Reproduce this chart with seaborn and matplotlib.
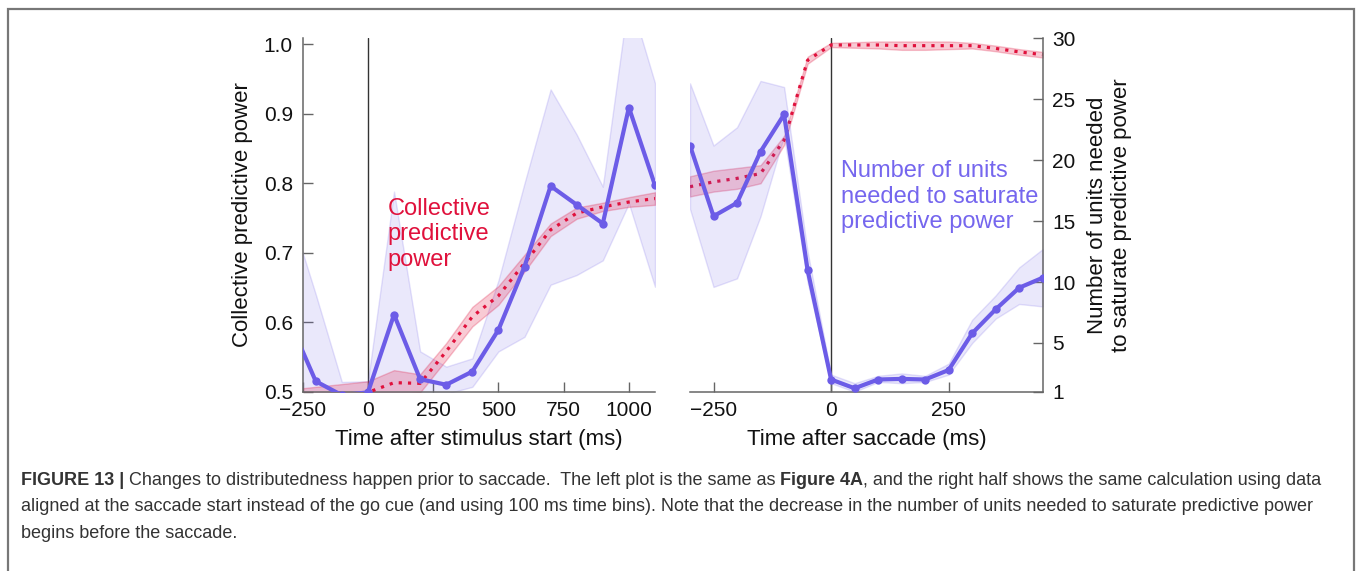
import matplotlib
matplotlib.use('Agg')
import matplotlib.pyplot as plt
from matplotlib.colors import to_rgba
from matplotlib.patches import Rectangle
import seaborn as sns

# ---- data ----
# left panel: aligned at stimulus start
left_t = [-300, -200, -100, 0, 100, 200, 300, 400, 500, 600, 700, 800, 900, 1000, 1100]
left_blue = [0.601, 0.515, 0.495, 0.499, 0.611, 0.518, 0.510, 0.529, 0.589, 0.680, 0.796, 0.769, 0.742, 0.909, 0.797]
left_blue_hi = [0.76, 0.64, 0.514, 0.515, 0.788, 0.558, 0.536, 0.548, 0.66, 0.80, 0.935, 0.87, 0.795, 1.07, 0.944]
left_blue_lo = [0.50, 0.47, 0.45, 0.47, 0.47, 0.49, 0.497, 0.507, 0.558, 0.579, 0.654, 0.668, 0.689, 0.771, 0.651]
left_red = [0.488, 0.492, 0.495, 0.499, 0.513, 0.512, 0.558, 0.608, 0.638, 0.685, 0.733, 0.757, 0.766, 0.773, 0.778]
left_red_hi = [0.503, 0.507, 0.511, 0.515, 0.531, 0.525, 0.570, 0.622, 0.652, 0.697, 0.742, 0.765, 0.772, 0.780, 0.787]
left_red_lo = [0.473, 0.477, 0.479, 0.483, 0.496, 0.499, 0.546, 0.594, 0.625, 0.673, 0.724, 0.749, 0.760, 0.766, 0.769]

# right panel: aligned at saccade start
right_t = [-300, -250, -200, -150, -100, -50, 0, 50, 100, 150, 200, 250, 300, 350, 400, 450]
right_units = [21.2, 15.4, 16.5, 20.7, 23.75, 11.0, 2.0, 1.28, 2.0, 2.05, 2.0, 2.78, 5.79, 7.76, 9.53, 10.35]
right_units_hi = [26.3, 21.2, 22.7, 26.5, 26.0, 12.5, 2.4, 1.7, 2.3, 2.5, 2.3, 3.3, 6.9, 8.9, 11.2, 12.7]
right_units_lo = [16.0, 9.6, 10.3, 15.4, 22.0, 10.0, 1.7, 1.0, 1.8, 1.7, 1.8, 2.4, 5.0, 7.0, 8.2, 8.0]
right_red = [0.795, 0.802, 0.807, 0.814, 0.862, 0.977, 0.999, 0.999, 0.999, 0.998, 0.998, 0.998, 0.998, 0.994, 0.989, 0.985]
right_red_hi = [0.810, 0.818, 0.822, 0.826, 0.868, 0.982, 1.002, 1.003, 1.004, 1.004, 1.004, 1.004, 1.002, 0.998, 0.993, 0.989]
right_red_lo = [0.781, 0.788, 0.792, 0.800, 0.855, 0.972, 0.996, 0.995, 0.994, 0.992, 0.992, 0.993, 0.994, 0.990, 0.985, 0.981]

left_xticks = [-250, 0, 250, 500, 750, 1000]
left_yticks = [0.5, 0.6, 0.7, 0.8, 0.9, 1.0]
right_xticks = [-250, 0, 250]
right_yticks = [1, 5, 10, 15, 20, 25, 30]

caption_lines = [
    [("FIGURE 13 |", True), (" Changes to distributedness happen prior to saccade.  The left plot is the same as ", False),
     ("Figure 4A", True), (", and the right half shows the same calculation using data", False)],
    [("aligned at the saccade start instead of the go cue (and using 100 ms time bins). Note that the decrease in the number of units needed to saturate predictive power", False)],
    [("begins before the saccade.", False)],
]

BLUE = '#6c5ce7'
RED = '#e0113c'
TXT_BLUE = '#7566ee'
SPINE = '#666666'

sns.set_style('ticks')
plt.rcParams['font.family'] = ['Liberation Sans', 'DejaVu Sans']

W, H = 1358, 571
fig = plt.figure(figsize=(W / 100, H / 100), dpi=100)
bottom = 1 - 391.7 / H
height = 353.4 / H
ax1 = fig.add_axes([302.7 / W, bottom, 352.3 / W, height])
ax2 = fig.add_axes([690 / W, bottom, 352.7 / W, height])
ax2r = ax2.twinx()

red_dots = (0, (1, 1.9))


def band(ax, x, lo, hi, color, fa, ea, z):
    ax.fill_between(x, lo, hi, facecolor=to_rgba(color, fa), edgecolor=to_rgba(color, ea), lw=1, zorder=z)


# left panel
band(ax1, left_t, left_blue_lo, left_blue_hi, BLUE, 0.14, 0.18, 1)
band(ax1, left_t, left_red_lo, left_red_hi, RED, 0.22, 0.25, 2)
sns.lineplot(x=left_t, y=left_red, ax=ax1, color=RED, lw=2.3, ls=red_dots, zorder=3)
sns.lineplot(x=left_t, y=left_blue, ax=ax1, color=BLUE, lw=3, marker='o', ms=6, mew=0, zorder=4)
ax1.axvline(0, color='#333333', lw=1, zorder=0)
ax1.set_xlim(-250, 1100)
ax1.set_ylim(0.5, 1.0086)
ax1.set_xticks(left_xticks)
ax1.set_yticks(left_yticks)
ax1.set_yticklabels([f'{v:.1f}' for v in left_yticks])
ax1.spines[['top', 'right']].set_visible(False)
ax1.set_xlabel('Time after stimulus start (ms)', fontsize=16, labelpad=6)
ax1.set_ylabel('Collective predictive power', fontsize=16, labelpad=8)
ax1.text(75, 0.779, 'Collective\npredictive\npower', color=RED, fontsize=17, va='top', linespacing=1.2)

# right panel: red on left scale (hidden), blue on right axis
band(ax2, right_t, right_red_lo, right_red_hi, RED, 0.22, 0.25, 2)
sns.lineplot(x=right_t, y=right_red, ax=ax2, color=RED, lw=2.3, ls=red_dots, zorder=3)
ax2.axvline(0, color='#333333', lw=1, zorder=0)
ax2.set_xlim(-300, 450)
ax2.set_ylim(0.5, 1.0086)
ax2.set_xticks(right_xticks)
ax2.tick_params(axis='y', left=False, labelleft=False)
ax2.spines[['top', 'right', 'left']].set_visible(False)
ax2.set_xlabel('Time after saccade (ms)', fontsize=16, labelpad=6)

band(ax2r, right_t, right_units_lo, right_units_hi, BLUE, 0.14, 0.18, 1)
sns.lineplot(x=right_t, y=right_units, ax=ax2r, color=BLUE, lw=3, marker='o', ms=6, mew=0, zorder=4)
ax2r.set_ylim(1, 30)
ax2r.set_yticks(right_yticks)
ax2r.spines[['top', 'left', 'bottom']].set_visible(False)
ax2r.set_ylabel('Number of units needed\nto saturate predictive power', fontsize=16, labelpad=8)
ax2r.text(21, 20.0, 'Number of units\nneeded to saturate\npredictive power', color=TXT_BLUE, fontsize=17,
          va='top', linespacing=1.2, clip_on=False)

for ax in (ax1, ax2, ax2r):
    ax.tick_params(direction='in', length=7, width=1, color=SPINE, labelsize=15, pad=7, labelcolor='#111111')
    for s in ax.spines.values():
        s.set_color(SPINE)
        s.set_linewidth(1.1)
    ax.xaxis.label.set_color('#111111')
    ax.yaxis.label.set_color('#111111')
    ax.set_facecolor('none')

# frame around the whole figure
fig.add_artist(Rectangle((8 / W, -0.02), (1354 - 8) / W, 1.02 - 9.5 / H, transform=fig.transFigure,
                         fill=False, edgecolor='#777777', lw=1.6))

# caption, built piece by piece so bold words sit inline
cap = fig.add_axes([0, 0, 1, 1])
cap.axis('off')
line_bottoms = [1 - 488.8 / H, 1 - 515.3 / H, 1 - 541.8 / H]
for parts, yb in zip(caption_lines, line_bottoms):
    prev = None
    for txt, bold in parts:
        kw = dict(fontsize=13, color='#333333', fontweight='bold' if bold else 'normal', ha='left', va='bottom')
        if prev is None:
            prev = cap.text(20.7 / W, yb, txt, transform=cap.transAxes, **kw)
        else:
            prev = cap.annotate(txt, xy=(1, 0), xycoords=prev, annotation_clip=False, **kw)

fig.savefig('out.png', dpi=100)
